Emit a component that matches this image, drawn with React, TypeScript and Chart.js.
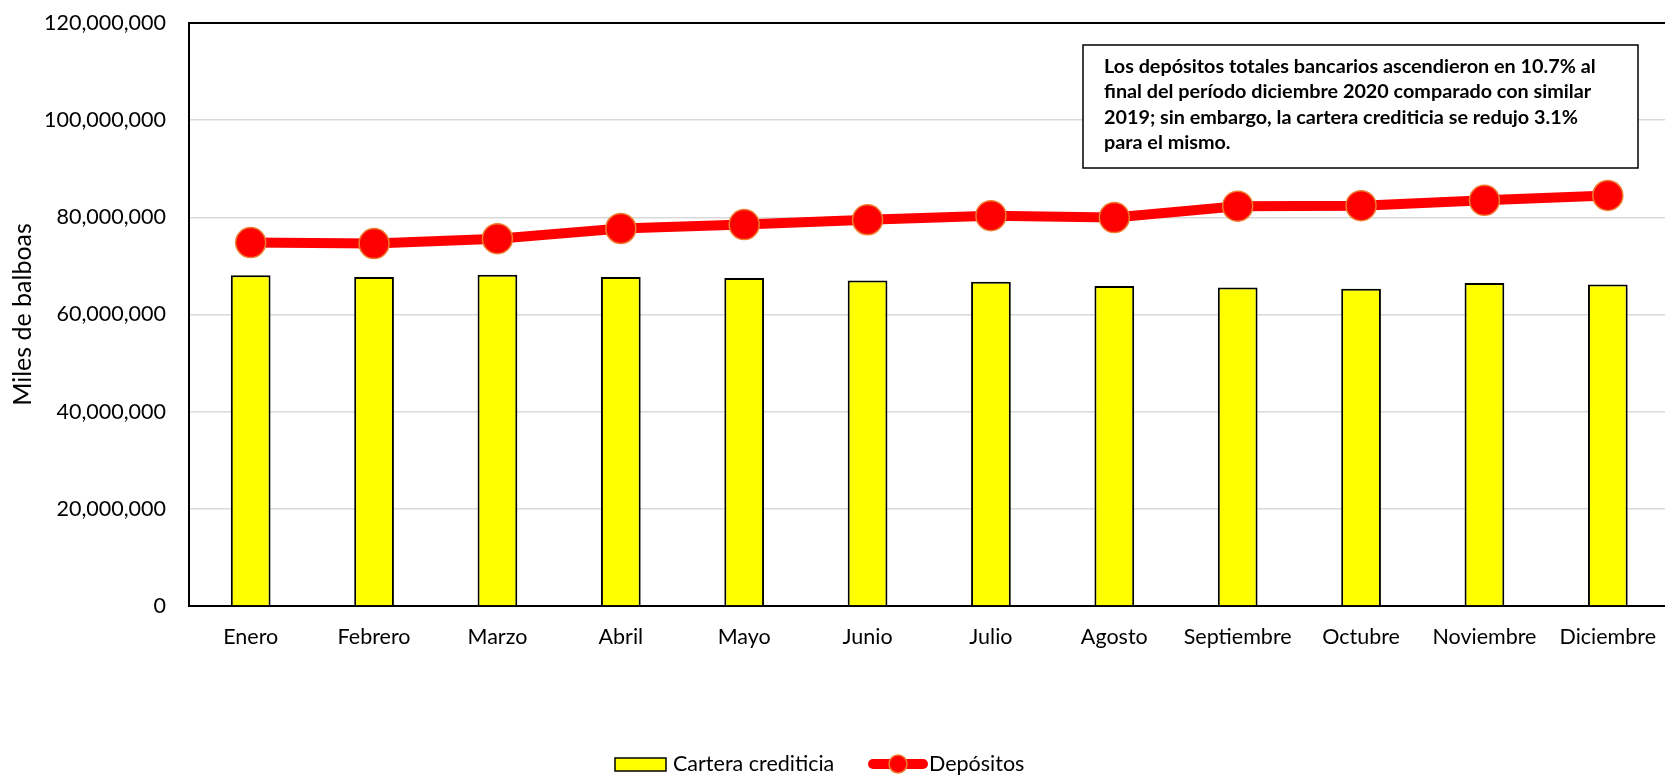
import React, { useEffect, useRef } from "react";
import { Chart, registerables } from "chart.js";

Chart.register(...registerables);

const months = ["Enero", "Febrero", "Marzo", "Abril", "Mayo", "Junio", "Julio", "Agosto", "Septiembre", "Octubre", "Noviembre", "Diciembre"];
const cartera = [68100000, 67700000, 68200000, 67700000, 67500000, 67000000, 66750000, 65850000, 65550000, 65300000, 66500000, 66200000];
const depositos = [74800000, 74600000, 75600000, 77700000, 78500000, 79500000, 80350000, 79950000, 82300000, 82400000, 83500000, 84500000];
const yTicks = [0, 20000000, 40000000, 60000000, 80000000, 100000000, 120000000];
const seriesNames = ["Cartera crediticia", "Depósitos"];
const yTitle = "Miles de balboas";
const noteLines = [
  "Los depósitos totales bancarios ascendieron en 10.7% al",
  "final del período diciembre 2020 comparado con similar",
  "2019; sin embargo, la cartera crediticia se redujo 3.1%",
  "para el mismo.",
];

const FONT = "Lato";

const overlayPlugin = {
  id: "overlay",
  afterDraw(chart: any) {
    const ctx = chart.ctx;
    ctx.save();
    // annotation box
    const bx = 1083, by = 45, bw = 555, bh = 123;
    ctx.fillStyle = "#ffffff";
    ctx.fillRect(bx, by, bw, bh);
    ctx.strokeStyle = "#000000";
    ctx.lineWidth = 1.5;
    ctx.strokeRect(bx, by, bw, bh);
    ctx.fillStyle = "#000000";
    ctx.font = `bold 19.8px ${FONT}`;
    ctx.textBaseline = "middle";
    ctx.textAlign = "left";
    noteLines.forEach((t, i) => ctx.fillText(t, 1104, 67 + i * 25.1));

    // legend
    const ly = 764;
    ctx.fillStyle = "#FFFF00";
    ctx.fillRect(615, 758, 51, 13);
    ctx.strokeStyle = "#000";
    ctx.lineWidth = 1.5;
    ctx.strokeRect(615, 758, 51, 13);
    ctx.fillStyle = "#000";
    ctx.font = `21.5px ${FONT}`;
    ctx.fillText(seriesNames[0], 673, ly);
    ctx.strokeStyle = "#FF0000";
    ctx.lineWidth = 10;
    ctx.lineCap = "round";
    ctx.beginPath();
    ctx.moveTo(873, ly);
    ctx.lineTo(923, ly);
    ctx.stroke();
    ctx.beginPath();
    ctx.arc(898, ly, 9, 0, Math.PI * 2);
    ctx.fillStyle = "#FF0000";
    ctx.fill();
    ctx.lineWidth = 1.5;
    ctx.strokeStyle = "#ED7D31";
    ctx.stroke();
    ctx.fillStyle = "#000";
    ctx.fillText(seriesNames[1], 929, ly);
    ctx.restore();
  },
};

export default function App() {
  const ref = useRef<HTMLCanvasElement>(null);
  useEffect(() => {
    if (!ref.current) return;
    const chart = new Chart(ref.current, {
      data: {
        labels: months,
        datasets: [
          {
            type: "line",
            label: seriesNames[1],
            data: depositos,
            borderColor: "#FF0000",
            borderWidth: 10,
            pointRadius: 15,
            pointBackgroundColor: "#FF0000",
            pointBorderColor: "#ED7D31",
            pointBorderWidth: 1.5,
            order: 0,
          } as any,
          {
            type: "bar",
            label: seriesNames[0],
            data: cartera,
            backgroundColor: "#FFFF00",
            borderColor: "#000000",
            borderWidth: 2,
            categoryPercentage: 1,
            barPercentage: 0.322,
            order: 1,
          } as any,
        ],
      },
      options: {
        animation: false,
        responsive: false,
        maintainAspectRatio: false,
        layout: { padding: { top: 23, right: 2, left: 0, bottom: 0 } },
        plugins: { legend: { display: false }, tooltip: { enabled: false } },
        scales: {
          x: {
            offset: true,
            grid: { display: false, drawTicks: false },
            border: { display: true, color: "#000", width: 2 },
            ticks: { color: "#000", font: { family: FONT, size: 21.5 }, padding: 18, maxRotation: 0, autoSkip: false },
            afterFit: (s: any) => { s.height = 170; },
          },
          y: {
            min: 0,
            max: 120000000,
            afterBuildTicks: (s: any) => { s.ticks = yTicks.map((v) => ({ value: v })); },
            grid: {
              drawTicks: false,
              color: (c: any) => (c.tick && c.tick.value === 120000000 ? "#000000" : "#D9D9D9"),
              lineWidth: (c: any) => (c.tick && c.tick.value === 120000000 ? 2 : 1.5),
            },
            border: { display: true, color: "#000", width: 2 },
            ticks: {
              color: "#000",
              font: { family: FONT, size: 21.5 },
              padding: 23,
              callback: (v: any) => Number(v).toLocaleString("en-US"),
            },
            title: { display: true, text: yTitle, color: "#000", font: { family: FONT, size: 25 }, padding: { top: 8, bottom: 0 } },
            afterFit: (s: any) => { s.width = 189; s.paddingTop = 0; s.paddingBottom = 0; },
          },
        },
      },
      plugins: [overlayPlugin],
    });
    return () => chart.destroy();
  }, []);
  return (
    <div style={{ position: "absolute", left: 0, top: 0, width: 1665, height: 776, overflow: "hidden", background: "#fff" }}>
      <canvas ref={ref} width={1686} height={776} style={{ display: "block" }} />
    </div>
  );
}
